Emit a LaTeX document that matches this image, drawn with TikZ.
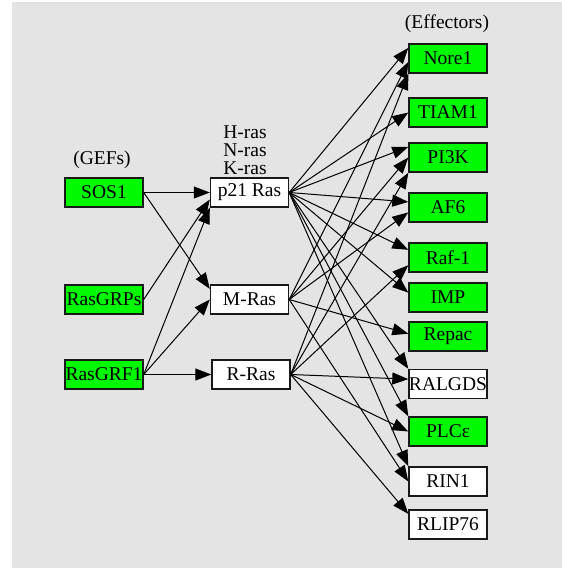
\documentclass[tikz,border=0pt]{standalone}
\usepackage{fontspec}
\setmainfont{Liberation Serif}
\usetikzlibrary{arrows.meta}
\definecolor{bg}{RGB}{228,228,228}
\definecolor{gf}{RGB}{0,250,0}
\begin{document}
\begin{tikzpicture}[x=1pt,y=-1pt,
  box/.style={draw=black!90, line width=1.4pt, minimum width=78pt, minimum height=29pt, inner sep=0pt, font=\fontsize{19.5}{21}\selectfont},
  gbox/.style={box, fill=gf},
  wbox/.style={box, fill=white},
  lab/.style={font=\fontsize{19.5}{21}\selectfont, inner sep=0pt},
  edge/.style={-{Triangle[length=16pt,width=12pt]}, line width=1pt, black}]
\useasboundingbox (0,0) rectangle (562,568);
\fill[bg] (12,2) rectangle (562,568);
% labels
\node[lab] (gefs) at (102,160) {(GEFs)};
\node[lab] (eff) at (447,24) {(Effectors)};
\node[lab] (hras) at (245,132) {H-ras};
\node[lab] (nras) at (245,150) {N-ras};
\node[lab] (kras) at (245,168) {K-ras};
% GEFs
\node[gbox] (sos) at (104,192.5) {SOS1};
\node[gbox] (grp) at (104,299.5) {RasGRPs};
\node[gbox] (grf) at (104,374.5) {RasGRF1};
% Ras
\node[wbox] (p21) at (249.5,192.5) {p21 Ras};
\node[wbox] (mras) at (249.5,299.5) {M-Ras};
\node[wbox] (rras) at (251,374.5) {R-Ras};
% Effectors
\node[gbox] (nore) at (448,58.5) {Nore1};
\node[gbox] (tiam) at (448,112.5) {TIAM1};
\node[gbox] (pik) at (448,157.5) {PI3K};
\node[gbox] (af) at (448,207.5) {AF6};
\node[gbox] (raf) at (448,257.5) {Raf-1};
\node[gbox] (imp) at (448,297.5) {IMP};
\node[gbox] (repac) at (448,336.5) {Repac};
\node[wbox] (ralgds) at (448,384) {RALGDS};
\node[gbox] (plc) at (448,431.5) {PLCε};
\node[wbox] (rin) at (448,481.5) {RIN1};
\node[wbox] (rlip) at (448,524.5) {RLIP76};
% GEF edges
\draw[edge] (sos.east) -- (p21.west);
\draw[edge] (sos.east) -- (mras.165);
\draw[edge] (grp.east) -- (p21.190);
\draw[edge] (grf.east) -- (p21.south west);
\draw[edge] (grf.east) -- (mras.west);
\draw[edge] (grf.east) -- (rras.west);
% p21 edges
\draw[edge] (p21.east) -- (nore.165);
\draw[edge] (p21.east) -- (tiam.west);
\draw[edge] (p21.east) -- (pik.165);
\draw[edge] (p21.east) -- (af.172);
\draw[edge] (p21.east) -- (raf.169);
\draw[edge] (p21.east) -- (imp.173);
\draw[edge] (p21.east) -- (ralgds.north west);
\draw[edge] (p21.east) -- (plc.north west);
\draw[edge] (p21.east) -- (rin.north west);
% M-Ras edges
\draw[edge] (mras.east) -- (nore.185);
\draw[edge] (mras.east) -- (pik.west);
\draw[edge] (mras.east) -- (af.187);
\draw[edge] (mras.east) -- (repac.176);
\draw[edge] (mras.east) -- (rin.west);
% R-Ras edges
\draw[edge] (rras.east) -- (nore.south west);
\draw[edge] (rras.east) -- (pik.south west);
\draw[edge] (rras.east) -- (raf.191);
\draw[edge] (rras.east) -- (ralgds.173);
\draw[edge] (rras.east) -- (plc.west);
\draw[edge] (rras.east) -- (rlip.165);
\end{tikzpicture}
\end{document}
